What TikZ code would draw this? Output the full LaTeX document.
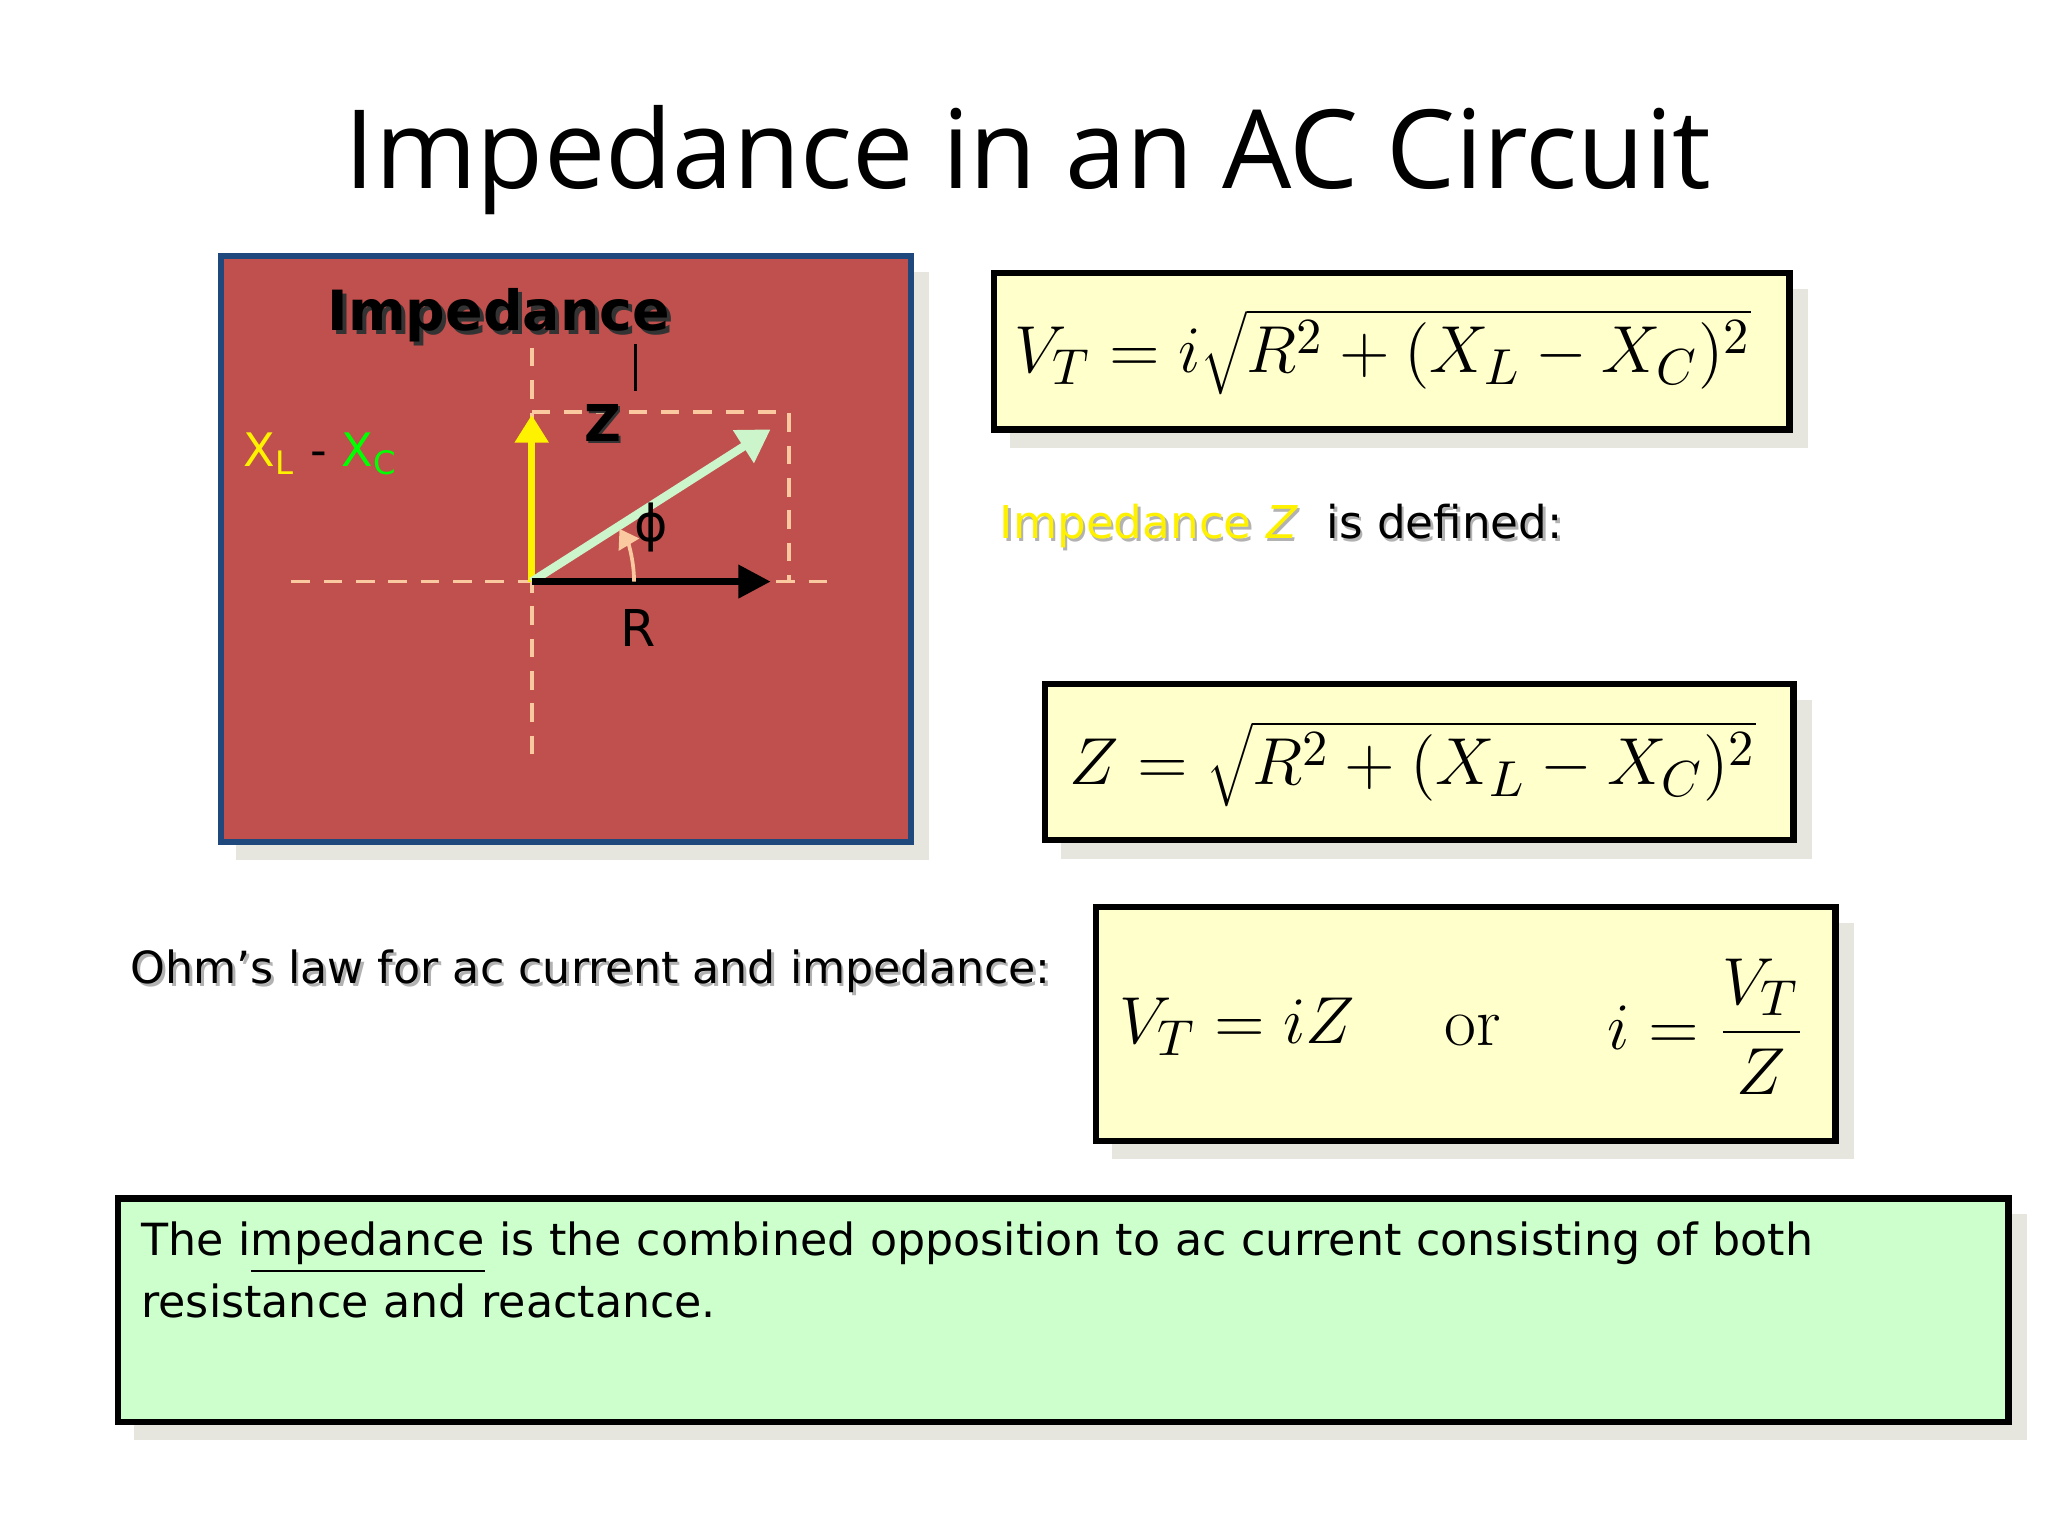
\documentclass[tikz,border=0pt]{standalone}
\usepackage{fontspec}
\setmainfont{DejaVu Sans}
\newfontfamily\titlefont{Open Sans}
\newfontfamily\lmr{Latin Modern Roman}
\usetikzlibrary{arrows.meta}
\definecolor{boxred}{HTML}{C0504D}
\definecolor{boxblue}{HTML}{1F497D}
\definecolor{peach}{HTML}{FBC9A0}
\definecolor{pale}{HTML}{FFFFCC}
\definecolor{mint}{HTML}{CCFFCC}
\definecolor{shad}{HTML}{E6E6DE}
\definecolor{zgreen}{HTML}{CCF5CC}
\begin{document}
\begin{tikzpicture}[x=0.01cm,y=-0.01cm,
  fbox/.style={draw=black,line width=1.4pt,fill=pale},
  dashl/.style={peach,line width=0.8pt,dash pattern=on 4pt off 3pt},
  eq/.style={font=\fontsize{15}{18}\selectfont,anchor=west},
  txt/.style={font=\fontsize{9.6}{13.5}\selectfont}]
\useasboundingbox (0,0) rectangle (1560,1170);
\fill[white] (0,0) rectangle (1560,1170);
\node[font=\titlefont\fontsize{23.7}{28}\selectfont] (title) at (783,122) {Impedance in an AC Circuit};
% red box
\fill[shad] (180,207) rectangle (708,655);
\draw[boxblue,line width=1.3pt,fill=boxred] (168,195) rectangle (694,641);
\node[font=\bfseries\fontsize{12}{14}\selectfont,gray!40!black] at (383,243) {Impedance};
\node[font=\bfseries\fontsize{12}{14}\selectfont] (imp) at (380,240) {Impedance};
\coordinate (O) at (405,443);
\draw[dashl] (222,443) -- (640,443);
\draw[dashl] (405,265) -- (405,575);
\draw[dashl] (405,314) -- (601,314) -- (601,443);
\draw[yellow,line width=1.6pt,-{Triangle[length=6pt,width=7pt]}] (O) -- (405,316);
\draw[zgreen,line width=1.8pt,-{Triangle[length=7pt,width=8pt]}] (O) -- (587,327);
\draw[black,line width=1.4pt,-{Triangle[length=7pt,width=7pt]}] (O) -- (587,443);
\draw[peach,line width=0.8pt,-{Triangle[length=4pt,width=5pt]}] (483,443) arc[start angle=0,end angle=-31,radius=78];
\node[font=\fontsize{11}{14}\selectfont] (phi) at (496,402) {ϕ};
\node[font=\fontsize{11}{14}\selectfont] (R) at (486,478) {R};
\node[font=\bfseries\fontsize{11}{14}\selectfont,gray!40!black] at (461,324) {Z};
\node[font=\bfseries\fontsize{11}{14}\selectfont] (Z) at (459,322) {Z};
\draw[black,line width=0.8pt] (484,262) -- (484,298);
\node[font=\fontsize{10}{14}\selectfont,anchor=west,inner sep=0pt] (xl) at (185,346) {\textcolor{yellow}{X\textsubscript{L}} - \textcolor{green}{X\textsubscript{C}}};
% formula boxes
\fill[shad] (769,220) rectangle (1377,341);
\draw[fbox] (757,208) rectangle (1363,327);
\node[eq] (f1) at (760,268) {$V_{T} = i\sqrt{R^{2}+(X_{L}-X_{C})^{2}}$};
\node[font=\fontsize{9.8}{14}\selectfont] at (978,403) {\textcolor{gray!60}{Impedance \textit{Z}\ \ is defined:}};
\node[font=\fontsize{9.8}{14}\selectfont] (def) at (976,401) {\textcolor{yellow}{Impedance \textit{Z}}\ \ is defined:};
\fill[shad] (808,533) rectangle (1380,654);
\draw[fbox] (796,521) rectangle (1366,640);
\node[eq] (f2) at (802,582) {$Z = \sqrt{R^{2}+(X_{L}-X_{C})^{2}}$};
\node[txt,gray!60] at (452,742) {Ohm’s law for ac current and impedance:};
\node[txt] (ohm) at (450,740) {Ohm’s law for ac current and impedance:};
\fill[shad] (847,703) rectangle (1412,883);
\draw[fbox] (835,691) rectangle (1398,869);
\node[eq] (f3a) at (840,782) {$V_{T} = iZ$};
\node[font=\lmr\fontsize{15}{18}\selectfont] (f3b) at (1122,785) {or};
\node[eq] (f3c) at (1212,782) {$i = \displaystyle\frac{V_{T}}{Z}$};
% green box
\fill[shad] (102,925) rectangle (1544,1097);
\draw[black,line width=1.4pt,fill=mint] (90,913) rectangle (1530,1083);
\node[txt,anchor=north west,align=left,text width=1400,inner sep=0pt] (body) at (107,930)
 {The i\underline{mpedance} is the combined opposition to ac current consisting of both\\resistance and reactance.};
\end{tikzpicture}
\end{document}
